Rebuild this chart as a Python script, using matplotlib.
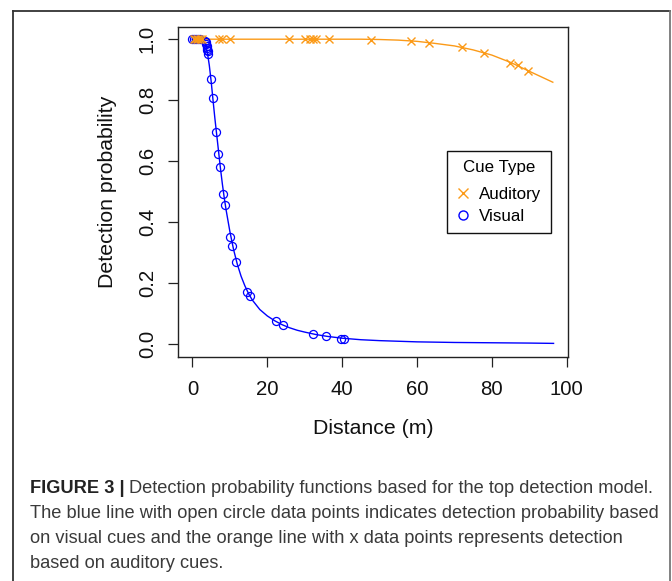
import matplotlib
matplotlib.use('Agg')
import matplotlib.pyplot as plt
from matplotlib.lines import Line2D

plt.rcParams['font.family'] = ['Liberation Sans', 'DejaVu Sans']

# ---------------- data ----------------
visual_x = [0.0, 0.5, 1.0, 1.5, 2.0, 3.3, 3.5, 3.7, 3.8, 3.9, 4.0, 4.1, 4.2,
            4.9, 5.36, 6.4, 6.9, 7.3, 8.1, 8.76, 10.1, 10.55, 11.7,
            14.7, 15.4, 22.2, 24.1, 32.2, 35.6, 39.7, 40.6]
visual_y = [1.0, 1.0, 1.0, 1.0, 1.0, 0.994, 0.99, 0.983, 0.978, 0.972, 0.966, 0.96, 0.953,
            0.868, 0.808, 0.695, 0.624, 0.58, 0.491, 0.458, 0.351, 0.321, 0.271,
            0.173, 0.159, 0.076, 0.063, 0.033, 0.026, 0.018, 0.018]

auditory_x = [0.3, 0.8, 1.2, 1.6, 2.0, 2.5, 7.0, 7.9, 10.1, 25.7, 30.2, 31.5, 32.3,
              33.1, 36.4, 47.6, 58.3, 63.2, 72.0, 77.9, 84.9, 87.1, 89.6]
auditory_y = [1.0, 1.0, 1.0, 1.0, 1.0, 1.0, 1.0, 1.0, 1.0, 1.0, 1.0, 1.0, 1.0,
              1.0, 1.0, 0.999, 0.995, 0.989, 0.974, 0.954, 0.923, 0.915, 0.897]

visual_curve_x = [0, 2, 3, 3.5, 4, 4.5, 5, 5.5, 6, 6.5, 7, 7.5, 8, 8.5, 9, 10, 11, 12,
                  13, 14, 15, 16, 18, 20, 22, 24, 26, 28, 30, 33, 36, 40, 45, 50,
                  55, 60, 70, 80, 90, 96.5]
visual_curve_y = [1.0, 1.0, 0.995, 0.985, 0.955, 0.915, 0.862, 0.80, 0.74, 0.685, 0.63,
                  0.575, 0.525, 0.48, 0.44, 0.37, 0.31, 0.262, 0.223, 0.192, 0.166,
                  0.145, 0.114, 0.093, 0.077, 0.064, 0.054, 0.046, 0.040, 0.032,
                  0.026, 0.020, 0.015, 0.012, 0.010, 0.008, 0.006, 0.005, 0.004, 0.003]

auditory_curve_x = [0, 10, 20, 30, 40, 45, 50, 55, 60, 65, 70, 75, 80, 85, 90, 96.3]
auditory_curve_y = [1.0, 1.0, 1.0, 1.0, 1.0, 1.0, 0.999, 0.997, 0.993, 0.986, 0.978,
                    0.965, 0.948, 0.924, 0.895, 0.859]

x_ticks = [0, 20, 40, 60, 80, 100]
y_ticks = [0.0, 0.2, 0.4, 0.6, 0.8, 1.0]
x_label = "Distance (m)"
y_label = "Detection probability"
legend_title = "Cue Type"
series_names = ["Auditory", "Visual"]
caption_bold = "FIGURE 3 |"
caption_lines = [
    "Detection probability functions based for the top detection model.",
    "The blue line with open circle data points indicates detection probability based",
    "on visual cues and the orange line with x data points represents detection",
    "based on auditory cues.",
]

# ---------------- figure ----------------
W, H = 672, 581
fig = plt.figure(figsize=(W / 100, H / 100), dpi=100)
fig.patch.set_facecolor('white')

ORANGE = '#fb9a18'
BLUE = '#0000ff'

def fx(px):
    return px / W

def fy(py):
    return 1 - py / H

# outer frame
frame_kw = dict(color='#333333', linewidth=1.3, transform=fig.transFigure)
fig.add_artist(Line2D([fx(13), fx(13)], [fy(10.5), fy(581)], **frame_kw))
fig.add_artist(Line2D([fx(13), fx(670)], [fy(10.5), fy(10.5)], **frame_kw))
fig.add_artist(Line2D([fx(670), fx(670)], [fy(10.5), fy(581)], color='#777777',
                      linewidth=1.3, transform=fig.transFigure))

ax = fig.add_axes([fx(178), fy(356.5), (568 - 178) / W, (356.5 - 27) / H])
ax.plot(auditory_curve_x, auditory_curve_y, color=ORANGE, linewidth=1.0, zorder=2)
ax.plot(visual_curve_x, visual_curve_y, color=BLUE, linewidth=1.0, zorder=3)
ax.plot(visual_x, visual_y, linestyle='None', marker='o', markersize=5.8,
        markerfacecolor='none', markeredgecolor=BLUE, markeredgewidth=0.9, zorder=4)
ax.plot(auditory_x, auditory_y, linestyle='None', marker='x', markersize=5.8,
        color=ORANGE, markeredgewidth=1.0, zorder=5)

ax.set_xlim(-3.86, 100.36)
ax.set_ylim(-0.04, 1.04)
ax.set_xticks(x_ticks)
ax.set_yticks(y_ticks)
ax.set_xticklabels([str(t) for t in x_ticks])
ax.set_yticklabels([f"{t:.1f}" for t in y_ticks])
for s in ax.spines.values():
    s.set_linewidth(1.0)
    s.set_color('#222222')
ax.tick_params(axis='both', direction='out', length=7.2, width=0.9, color='#222222',
               labelsize=14.7, labelcolor='#111111')
ax.tick_params(axis='x', pad=9.5)
ax.tick_params(axis='y', pad=8, labelrotation=90)
for lab in ax.get_yticklabels():
    lab.set_va('center')

ax.set_xlabel(x_label, fontsize=15.3, color='#111111', va='center')
ax.xaxis.set_label_coords(0.5, -(428 - 356.5) / 329.5)
ax.set_ylabel(y_label, fontsize=15.3, color='#111111', va='center')
ax.yaxis.set_label_coords(-(178 - 108) / 390, 0.5)

handles = [
    Line2D([], [], linestyle='None', marker='x', color=ORANGE, markersize=6.5,
           markeredgewidth=1.0),
    Line2D([], [], linestyle='None', marker='o', markerfacecolor='none',
           markeredgecolor=BLUE, markersize=6.5, markeredgewidth=1.0),
]
leg = ax.legend(handles, series_names, title=legend_title, loc='upper left',
                bbox_to_anchor=(fx(447), fy(151)), bbox_transform=fig.transFigure,
                borderaxespad=0, fontsize=12.2, title_fontsize=12.2,
                frameon=True, fancybox=False, framealpha=1, edgecolor='#111111',
                handlelength=0.8, handletextpad=0.55, borderpad=0.55,
                labelspacing=0.38)
leg.get_frame().set_linewidth(1.0)
leg._legend_box.sep = 8.5

# ---------------- caption ----------------
cap_size = 12.0
bold = fig.text(fx(30), fy(493), caption_bold, fontsize=cap_size, fontweight='bold',
                color='#222222', va='baseline', ha='left')
fig.canvas.draw()
r = fig.canvas.get_renderer()
bb = bold.get_window_extent(r)
first = fig.text(0, fy(493), caption_lines[0], fontsize=cap_size, color='#3a3a3a',
                 va='baseline', ha='left')
fig.canvas.draw()
space = 4
total = (bb.x1 - bb.x0) + space + first.get_window_extent(r).width
scale = (655 - 30) / total
cap_size = cap_size * scale
bold.set_fontsize(cap_size)
first.set_fontsize(cap_size)
fig.canvas.draw()
bb = bold.get_window_extent(r)
first.set_x((bb.x1 + space * scale) / W)

baselines = [493, 518, 543, 568]
for line, yb in zip(caption_lines[1:], baselines[1:]):
    fig.text(fx(30), fy(yb), line, fontsize=cap_size, color='#3a3a3a',
             va='baseline', ha='left')

fig.savefig('out.png', dpi=100, facecolor='white')
